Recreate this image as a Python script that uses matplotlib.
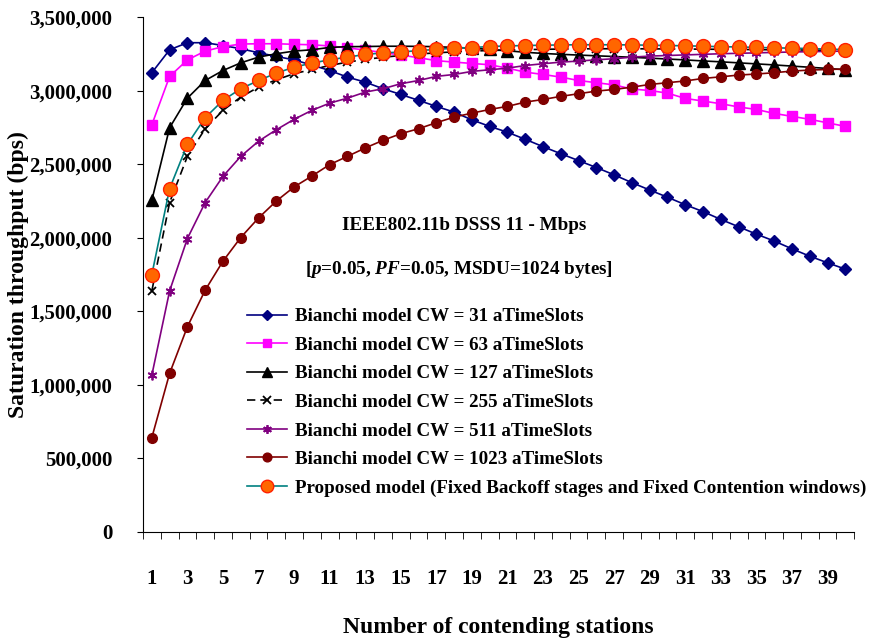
import matplotlib
matplotlib.use('Agg')
import matplotlib.pyplot as plt
from matplotlib.ticker import MultipleLocator, StrMethodFormatter
import numpy as np

plt.rcParams['font.family'] = 'Liberation Serif'
plt.rcParams['font.weight'] = 'bold'
plt.rcParams['mathtext.fontset'] = 'custom'
plt.rcParams['mathtext.it'] = 'Liberation Serif:italic:bold'
plt.rcParams['mathtext.rm'] = 'Liberation Serif:bold'

stations = np.arange(1, 41)

# saturation throughput (bps)
cw31 = [3123000, 3279000, 3327000, 3327000, 3308000, 3286000, 3259000, 3234000, 3210000, 3175000,
        3138000, 3093000, 3059000, 3014000, 2975000, 2935000, 2894000, 2855000, 2802000, 2758000,
        2718000, 2670000, 2620000, 2572000, 2525000, 2478000, 2428000, 2375000, 2325000, 2276000,
        2225000, 2178000, 2125000, 2075000, 2025000, 1978000, 1925000, 1875000, 1830000, 1787000]
cw63 = [2769000, 3098000, 3210000, 3270000, 3300000, 3318000, 3320000, 3320000, 3316000, 3313000,
        3305000, 3292000, 3277000, 3260000, 3243000, 3225000, 3205000, 3195000, 3186000, 3177000,
        3154000, 3127000, 3111000, 3093000, 3070000, 3055000, 3040000, 3012000, 3002000, 2984000,
        2948000, 2930000, 2912000, 2890000, 2873000, 2846000, 2826000, 2806000, 2782000, 2758000]
cw127 = [2255000, 2749000, 2950000, 3070000, 3138000, 3190000, 3229000, 3252000, 3270000, 3279000,
         3295000, 3300000, 3301000, 3303000, 3303000, 3302000, 3300000, 3295000, 3290000, 3281000,
         3272000, 3262000, 3254000, 3248000, 3243000, 3238000, 3233000, 3228000, 3222000, 3216000,
         3210000, 3203000, 3197000, 3190000, 3183000, 3176000, 3168000, 3160000, 3152000, 3143000]
cw255 = [1639000, 2240000, 2554000, 2742000, 2867000, 2957000, 3025000, 3075000, 3116000, 3145000,
         3172000, 3195000, 3213000, 3228000, 3240000, 3250000, 3258000, 3265000, 3270000, 3274000,
         3277000, 3280000, 3282000, 3284000, 3285000, 3286000, 3286000, 3286000, 3285000, 3285000,
         3284000, 3283000, 3282000, 3281000, 3280000, 3279000, 3278000, 3277000, 3276000, 3275000]
cw511 = [1066000, 1639000, 1995000, 2240000, 2418000, 2554000, 2657000, 2735000, 2806000, 2867000,
         2916000, 2950000, 2991000, 3014000, 3048000, 3070000, 3098000, 3111000, 3132000, 3143000,
         3154000, 3172000, 3184000, 3195000, 3202000, 3211000, 3218000, 3229000, 3236000, 3240000,
         3244000, 3248000, 3252000, 3255000, 3258000, 3261000, 3264000, 3266000, 3268000, 3270000]
cw1023 = [641000, 1078000, 1395000, 1644000, 1841000, 2002000, 2135000, 2250000, 2346000, 2420000,
          2498000, 2554000, 2611000, 2663000, 2708000, 2742000, 2783000, 2821000, 2848000, 2873000,
          2894000, 2923000, 2941000, 2962000, 2980000, 2998000, 3009000, 3025000, 3043000, 3055000,
          3067000, 3084000, 3095000, 3107000, 3114000, 3123000, 3134000, 3141000, 3145000, 3148000]
proposed = [1750000, 2335000, 2636000, 2817000, 2935000, 3014000, 3070000, 3120000, 3161000, 3188000,
            3211000, 3229000, 3247000, 3258000, 3263000, 3274000, 3281000, 3290000, 3294000, 3301000,
            3305000, 3308000, 3310000, 3312000, 3313000, 3313000, 3313000, 3312000, 3310000, 3308000,
            3306000, 3303000, 3300000, 3298000, 3295000, 3292000, 3290000, 3287000, 3284000, 3280000]

labels = ['Bianchi model CW = 31 aTimeSlots',
          'Bianchi model CW = 63 aTimeSlots',
          'Bianchi model CW = 127 aTimeSlots',
          'Bianchi model CW = 255 aTimeSlots',
          'Bianchi model CW = 511 aTimeSlots',
          'Bianchi model CW = 1023 aTimeSlots',
          'Proposed model (Fixed Backoff stages and Fixed Contention windows)']
odd_ticks = list(range(1, 40, 2))

fig = plt.figure(figsize=(8.77, 6.4), dpi=100)
ax = fig.add_axes([0.163, 0.169, 0.811, 0.804])

ax.plot(stations, cw31, color='#000080', lw=1.2, marker='D', ms=6, label=labels[0])
ax.plot(stations, cw63, color='#FF00FF', lw=1.2, marker='s', ms=7, label=labels[1])
ax.plot(stations, cw127, color='black', lw=1.2, marker='^', ms=8, label=labels[2])
ax.plot(stations, cw255, color='black', lw=1.2, ls=(0, (5, 3)), marker='x', ms=6, mew=1.3,
        label=labels[3])
ax.plot(stations, cw511, color='#800080', lw=1.2, marker=(6, 2, 0), ms=7, mew=1.3,
        label=labels[4])
ax.plot(stations, cw1023, color='#800000', lw=1.2, marker='o', ms=7, label=labels[5])
ax.plot(stations, proposed, color='#008080', lw=1.2, marker='o', ms=10, mfc='#FF6600',
        mec='#FF2000', mew=1.0, label=labels[6])

ax.set_xlim(0.5, 40.5)
ax.set_ylim(0, 3500000)
ax.yaxis.set_major_locator(MultipleLocator(500000))
ax.yaxis.set_major_formatter(StrMethodFormatter('{x:,.0f}'))
ax.set_xticks(odd_ticks)
ax.set_xticks(np.arange(0.5, 41, 1), minor=True)
ax.tick_params(axis='x', which='major', length=0, pad=27, labelsize=15)
ax.tick_params(axis='x', which='minor', length=5, direction='out')
ax.tick_params(axis='y', length=4, direction='out', pad=18, labelsize=15)
for lab in ax.get_xticklabels() + ax.get_yticklabels():
    lab.set_fontweight('bold')

ax.spines['top'].set_visible(False)
ax.spines['right'].set_visible(False)

ax.set_ylabel('Saturation throughput (bps)', fontsize=17, fontweight='bold')
ax.set_xlabel('Number of contending stations', fontsize=17, fontweight='bold')
ax.yaxis.set_label_coords(-0.16, 0.5)
ax.xaxis.set_label_coords(0.5, -0.165)

ax.text(0.451, 0.596, 'IEEE802.11b DSSS 11 - Mbps', transform=ax.transAxes,
        ha='center', va='center', fontsize=13.8, fontweight='bold')
ax.text(0.444, 0.509, '[$p$=0.05, $PF$=0.05, MSDU=1024 bytes]', transform=ax.transAxes,
        ha='center', va='center', fontsize=13.8, fontweight='bold')

ax.legend(loc='upper left', bbox_to_anchor=(0.146, 0.435), frameon=False,
          borderpad=0, borderaxespad=0, handlelength=2.1, handletextpad=0.42,
          labelspacing=0.59, markerscale=0.9, prop={'weight': 'bold', 'size': 13.7})

fig.savefig('out.png', dpi=100)
